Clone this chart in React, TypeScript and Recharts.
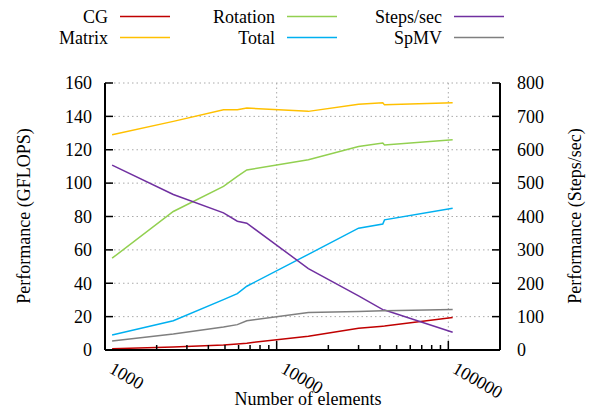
import React from "react";
import {
  LineChart,
  Line,
  XAxis,
  YAxis,
  CartesianGrid,
  ReferenceLine,
  Legend,
  Label,
} from "recharts";

// number of elements (x) and the measured series
const elements = [1100, 2500, 4900, 5900, 6700, 15300, 30000, 41500, 42500, 106000];
const cg = [0.8, 1.8, 3.0, 3.6, 4.1, 8.3, 13.0, 14.3, 14.4, 19.5];
const matrix = [129, 137, 144, 144, 145, 143, 147.3, 148.2, 146.9, 148.2];
const rotation = [55, 83, 98.1, 104, 107.9, 114, 122, 124, 122.8, 126];
const total = [9, 17.5, 30.2, 33.8, 38.2, 57.3, 73, 75.5, 78, 85];
const spmv = [5.4, 9.6, 13.8, 15.2, 17.5, 22.5, 23.1, 23.5, 23.5, 24.3];
const stepsPerSec = [554, 466, 411, 386, 380, 244, 162, 121, 120, 53];

const majorTicks = [1000, 10000, 100000];
const minorTicks = [
  2000, 3000, 4000, 5000, 6000, 7000, 8000, 9000,
  20000, 30000, 40000, 50000, 60000, 70000, 80000, 90000,
];
const leftTicks = [0, 20, 40, 60, 80, 100, 120, 140, 160];
const rightTicks = [0, 100, 200, 300, 400, 500, 600, 700, 800];

const series = [
  { key: "cg", name: "CG", color: "#c00000", axis: "left" },
  { key: "matrix", name: "Matrix", color: "#ffc000", axis: "left" },
  { key: "rotation", name: "Rotation", color: "#92d050", axis: "left" },
  { key: "total", name: "Total", color: "#00b0f0", axis: "left" },
  { key: "steps", name: "Steps/sec", color: "#7030a0", axis: "right" },
  { key: "spmv", name: "SpMV", color: "#7f7f7f", axis: "left" },
];

const data = elements.map((n, i) => ({
  n,
  cg: cg[i],
  matrix: matrix[i],
  rotation: rotation[i],
  total: total[i],
  spmv: spmv[i],
  steps: stepsPerSec[i],
}));

const FONT = '"Liberation Serif", "Times New Roman", serif';
const FS = 18;

const BottomTick = (props: any) => {
  const { x, y, payload } = props;
  const major = majorTicks.includes(payload.value);
  const tx = x + 3;
  const ty = y + 22;
  return (
    <g>
      <line x1={x} x2={x} y1={y} y2={y - (major ? 9 : 5)} stroke="#000" strokeWidth={1.5} />
      {major && (
        <text
          x={tx}
          y={ty}
          transform={`rotate(30 ${tx} ${ty})`}
          fontFamily={FONT}
          fontSize={FS}
          fill="#000"
        >
          {payload.value}
        </text>
      )}
    </g>
  );
};

const TopTick = (props: any) => {
  const { x, y, payload } = props;
  const major = majorTicks.includes(payload.value);
  return <line x1={x} x2={x} y1={y} y2={y + (major ? 9 : 5)} stroke="#000" strokeWidth={1.5} />;
};

const LeftTick = (props: any) => {
  const { x, y, payload } = props;
  return (
    <g>
      <line x1={x} x2={x + 8} y1={y} y2={y} stroke="#000" strokeWidth={1.5} />
      <text x={x - 13} y={y} dy="0.35em" textAnchor="end" fontFamily={FONT} fontSize={FS} fill="#000">
        {payload.value}
      </text>
    </g>
  );
};

const RightTick = (props: any) => {
  const { x, y, payload } = props;
  return (
    <g>
      <line x1={x} x2={x - 8} y1={y} y2={y} stroke="#000" strokeWidth={1.5} />
      <text x={x + 17} y={y} dy="0.35em" textAnchor="start" fontFamily={FONT} fontSize={FS} fill="#000">
        {payload.value}
      </text>
    </g>
  );
};

const renderLegend = () => (
  <svg width={598} height={50} style={{ display: "block", overflow: "visible" }}>
    {series.map((s, i) => {
      const col = Math.floor(i / 2);
      const row = i % 2;
      const xEnd = 108 + col * 167;
      const y = 16.5 + row * 21;
      return (
        <g key={s.key}>
          <text
            x={xEnd}
            y={y}
            dy="0.35em"
            textAnchor="end"
            fontFamily={FONT}
            fontSize={FS}
            fill="#000"
          >
            {s.name}
          </text>
          <line x1={xEnd + 12} x2={xEnd + 62} y1={y} y2={y} stroke={s.color} strokeWidth={1.5} />
        </g>
      );
    })}
  </svg>
);

const axisLine = { stroke: "#000", strokeWidth: 2 };

export default function App() {
  return (
    <div style={{ position: "absolute", left: 0, top: 0, width: 598, height: 412, background: "#fff" }}>
      <LineChart width={598} height={412} data={data} margin={{ top: 83, right: 0, bottom: 0, left: 0 }}>
        <XAxis
          xAxisId="bottom"
          dataKey="n"
          type="number"
          scale="log"
          domain={[1000, 200000]}
          allowDataOverflow
          ticks={[...majorTicks, ...minorTicks]}
          interval={0}
          height={62}
          tickSize={0}
          tickMargin={0}
          tickLine={false}
          axisLine={axisLine}
          tick={BottomTick}
        >
          <Label
            content={() => (
              <text x={308} y={405} textAnchor="middle" fontFamily={FONT} fontSize={FS} fill="#000">
                Number of elements
              </text>
            )}
          />
        </XAxis>
        <XAxis
          xAxisId="top"
          orientation="top"
          dataKey="n"
          type="number"
          scale="log"
          domain={[1000, 200000]}
          allowDataOverflow
          ticks={[...majorTicks, ...minorTicks]}
          interval={0}
          height={0}
          tickSize={0}
          tickMargin={0}
          tickLine={false}
          axisLine={axisLine}
          tick={TopTick}
        />
        <YAxis
          yAxisId="left"
          domain={[0, 160]}
          ticks={leftTicks}
          interval={0}
          width={105}
          tickSize={0}
          tickMargin={0}
          tickLine={false}
          axisLine={axisLine}
          tick={LeftTick}
        >
          <Label
            content={() => (
              <text
                x={24}
                y={216}
                transform="rotate(-90 24 216)"
                textAnchor="middle"
                dy="0.35em"
                fontFamily={FONT}
                fontSize={FS}
                fill="#000"
              >
                Performance (GFLOPS)
              </text>
            )}
          />
        </YAxis>
        <YAxis
          yAxisId="right"
          orientation="right"
          domain={[0, 800]}
          ticks={rightTicks}
          interval={0}
          width={98}
          tickSize={0}
          tickMargin={0}
          tickLine={false}
          axisLine={axisLine}
          tick={RightTick}
        >
          <Label
            content={() => (
              <text
                x={575}
                y={216}
                transform="rotate(-90 575 216)"
                textAnchor="middle"
                dy="0.35em"
                fontFamily={FONT}
                fontSize={FS}
                fill="#000"
              >
                Performance (Steps/sec)
              </text>
            )}
          />
        </YAxis>
        <CartesianGrid
          xAxisId="bottom"
          yAxisId="left"
          vertical={false}
          stroke="#aaa"
          strokeDasharray="1.5 3"
        />
        {majorTicks.map((t) => (
          <ReferenceLine
            key={t}
            x={t}
            xAxisId="bottom"
            yAxisId="left"
            stroke="#aaa"
            strokeDasharray="1.5 3"
          />
        ))}
        <Legend
          content={renderLegend}
          verticalAlign="top"
          wrapperStyle={{ top: 0, left: 0, width: 598, height: 0 }}
        />
        {series.map((s) => (
          <Line
            key={s.key}
            xAxisId="bottom"
            yAxisId={s.axis}
            dataKey={s.key}
            name={s.name}
            stroke={s.color}
            strokeWidth={1.5}
            dot={false}
            type="linear"
            isAnimationActive={false}
          />
        ))}
      </LineChart>
    </div>
  );
}
